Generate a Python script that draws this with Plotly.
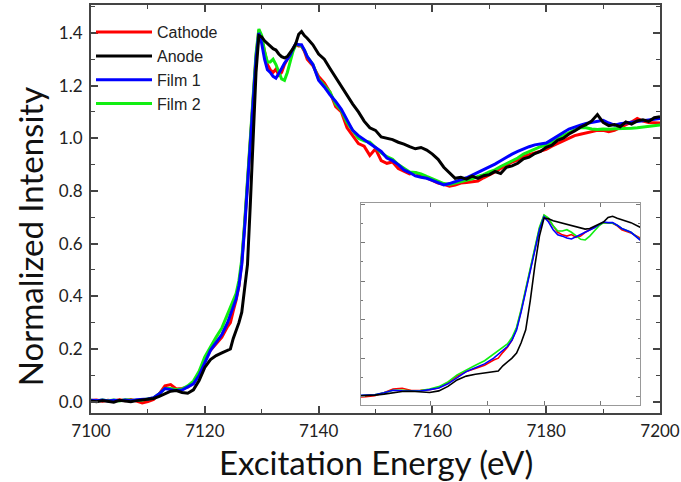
import plotly.graph_objects as go

# ---------------- data ----------------
energy = (
    [7100, 7101, 7102, 7103, 7104, 7105, 7106, 7107, 7108, 7109, 7110, 7111,
     7112, 7113, 7114, 7115, 7116, 7117, 7118, 7119, 7120, 7121, 7122, 7123]
    + [7124, 7124.5, 7125, 7125.5, 7126, 7126.5, 7127, 7127.5, 7128, 7128.5,
       7129, 7129.5, 7130, 7130.5, 7131, 7131.5, 7132, 7132.5, 7133, 7133.5,
       7134, 7134.5, 7135, 7135.5, 7136, 7136.5, 7137, 7137.5, 7138]
    + [7139, 7140, 7141, 7142, 7143, 7144, 7145, 7146, 7147, 7148, 7149, 7150,
       7151, 7152, 7153, 7154, 7155, 7156, 7157, 7158, 7159, 7160, 7161, 7162,
       7163, 7164, 7165, 7166, 7167, 7168, 7169, 7170, 7171, 7172, 7173, 7174,
       7175, 7176, 7177, 7178, 7179, 7180, 7181, 7182, 7183, 7184, 7185, 7186,
       7187, 7188, 7189, 7190, 7191, 7192, 7193, 7194, 7195, 7196, 7197, 7198,
       7199, 7200]
)

cathode = (
    [0.004, 0.006, 0.002, 0.005, 0.003, 0.007, 0.004, 0.008, 0.002, -0.005, 0.000, 0.008,
     0.030, 0.060, 0.065, 0.048, 0.050, 0.055, 0.070, 0.110, 0.160, 0.195, 0.220, 0.245]
    + [0.285, 0.300, 0.345, 0.385, 0.440, 0.530, 0.670, 0.830, 0.990, 1.130,
       1.310, 1.410, 1.380, 1.330, 1.280, 1.260, 1.250, 1.262, 1.240, 1.250,
       1.280, 1.300, 1.320, 1.340, 1.355, 1.350, 1.350, 1.330, 1.300]
    + [1.275, 1.235, 1.210, 1.175, 1.120, 1.100, 1.040, 1.010, 0.980, 0.970, 0.935, 0.960,
       0.915, 0.905, 0.910, 0.885, 0.875, 0.865, 0.870, 0.860, 0.850, 0.840, 0.830, 0.825,
       0.818, 0.822, 0.830, 0.832, 0.836, 0.838, 0.850, 0.860, 0.872, 0.885, 0.898, 0.910,
       0.918, 0.930, 0.938, 0.945, 0.950, 0.958, 0.970, 0.980, 0.992, 1.003, 1.010, 1.015,
       1.020, 1.025, 1.030, 1.030, 1.025, 1.030, 1.040, 1.050, 1.062, 1.075, 1.065, 1.060,
       1.058, 1.058]
)

anode = (
    [0.003, 0.000, 0.004, 0.002, -0.002, 0.005, 0.003, 0.000, 0.004, 0.006, 0.008, 0.012,
     0.020, 0.030, 0.040, 0.042, 0.035, 0.032, 0.045, 0.080, 0.130, 0.160, 0.175, 0.185]
    + [0.196, 0.200, 0.240, 0.270, 0.300, 0.340, 0.420, 0.520, 0.750, 1.020,
       1.250, 1.390, 1.385, 1.370, 1.360, 1.350, 1.340, 1.335, 1.320, 1.310,
       1.305, 1.310, 1.325, 1.340, 1.360, 1.395, 1.405, 1.390, 1.380]
    + [1.355, 1.320, 1.300, 1.265, 1.230, 1.200, 1.165, 1.130, 1.100, 1.065, 1.040, 1.030,
       1.005, 1.000, 0.995, 0.985, 0.978, 0.968, 0.960, 0.965, 0.955, 0.940, 0.920, 0.890,
       0.867, 0.848, 0.852, 0.845, 0.856, 0.848, 0.858, 0.862, 0.874, 0.866, 0.890, 0.895,
       0.905, 0.922, 0.928, 0.942, 0.950, 0.966, 0.974, 0.992, 1.000, 1.016, 1.028, 1.042,
       1.052, 1.066, 1.090, 1.060, 1.048, 1.052, 1.044, 1.062, 1.054, 1.066, 1.070, 1.064,
       1.078, 1.082]
)

film1 = (
    [0.005, 0.004, 0.006, 0.003, 0.005, 0.004, 0.006, 0.004, 0.007, 0.008, 0.010, 0.015,
     0.030, 0.050, 0.045, 0.042, 0.044, 0.055, 0.068, 0.100, 0.150, 0.195, 0.225, 0.255]
    + [0.300, 0.330, 0.360, 0.390, 0.440, 0.520, 0.660, 0.820, 0.980, 1.120,
       1.300, 1.400, 1.360, 1.300, 1.260, 1.250, 1.235, 1.228, 1.245, 1.265,
       1.285, 1.300, 1.315, 1.340, 1.360, 1.355, 1.355, 1.335, 1.310]
    + [1.280, 1.220, 1.195, 1.165, 1.140, 1.110, 1.070, 1.030, 1.010, 0.995, 0.980, 0.965,
       0.950, 0.925, 0.915, 0.900, 0.880, 0.870, 0.857, 0.852, 0.848, 0.840, 0.830, 0.823,
       0.828, 0.835, 0.842, 0.850, 0.860, 0.870, 0.880, 0.890, 0.902, 0.915, 0.928, 0.940,
       0.950, 0.960, 0.968, 0.975, 0.979, 0.982, 0.995, 1.010, 1.022, 1.035, 1.044, 1.050,
       1.056, 1.060, 1.064, 1.068, 1.058, 1.050, 1.055, 1.058, 1.060, 1.062, 1.065, 1.068,
       1.072, 1.075]
)

film2 = (
    [0.005, 0.003, 0.006, 0.004, 0.006, 0.003, 0.007, 0.005, 0.004, 0.006, 0.010, 0.014,
     0.030, 0.050, 0.050, 0.045, 0.048, 0.060, 0.078, 0.115, 0.170, 0.210, 0.245, 0.280]
    + [0.330, 0.355, 0.380, 0.410, 0.460, 0.540, 0.680, 0.840, 1.000, 1.140,
       1.320, 1.415, 1.390, 1.330, 1.290, 1.290, 1.300, 1.280, 1.250, 1.225,
       1.220, 1.250, 1.290, 1.330, 1.355, 1.355, 1.350, 1.335, 1.310]
    + [1.280, 1.225, 1.200, 1.175, 1.130, 1.105, 1.060, 1.030, 1.000, 0.990, 0.985, 0.965,
       0.945, 0.930, 0.920, 0.900, 0.885, 0.872, 0.870, 0.865, 0.855, 0.845, 0.835, 0.828,
       0.825, 0.830, 0.835, 0.840, 0.846, 0.855, 0.862, 0.872, 0.880, 0.893, 0.903, 0.915,
       0.925, 0.940, 0.950, 0.960, 0.968, 0.975, 0.985, 0.997, 1.010, 1.022, 1.032, 1.040,
       1.040, 1.035, 1.033, 1.035, 1.034, 1.036, 1.036, 1.037, 1.038, 1.040, 1.042, 1.044,
       1.047, 1.050]
)

series_names = ["Cathode", "Anode", "Film 1", "Film 2"]
x_ticks = [7100, 7120, 7140, 7160, 7180, 7200]
y_ticks = [0.0, 0.2, 0.4, 0.6, 0.8, 1.0, 1.2, 1.4]
x_title = "Excitation Energy (eV)"
y_title = "Normalized Intensity"

# ---------------- figure ----------------
colors = {"Cathode": "#ff0000", "Anode": "#000000", "Film 1": "#0000ff", "Film 2": "#11ee11"}
data_map = {"Cathode": cathode, "Anode": anode, "Film 1": film1, "Film 2": film2}
rank = {"Cathode": 1, "Anode": 2, "Film 1": 3, "Film 2": 4}
draw_order = ["Cathode", "Film 2", "Film 1", "Anode"]

fig = go.Figure()
for name in draw_order:
    fig.add_trace(go.Scatter(
        x=energy, y=data_map[name], name=name, mode="lines",
        line=dict(color=colors[name], width=3),
        legendrank=rank[name], xaxis="x", yaxis="y",
    ))
for name in draw_order:
    fig.add_trace(go.Scatter(
        x=energy, y=data_map[name], name=name, mode="lines",
        line=dict(color=colors[name], width=1.6),
        showlegend=False, xaxis="x2", yaxis="y2",
    ))

axis_col = "#444444"
fig.update_layout(
    width=681, height=482,
    margin=dict(l=91, r=21, t=5, b=69, autoexpand=False),
    paper_bgcolor="white", plot_bgcolor="white",
    font=dict(family="Lato, Open Sans, sans-serif", color="#222222"),
    showlegend=True,
    legend=dict(
        x=0.0, y=0.975, xanchor="left", yanchor="top",
        bgcolor="rgba(0,0,0,0)", borderwidth=0,
        font=dict(family="Liberation Sans, Arial, sans-serif", size=16, color="#222222"),
        tracegroupgap=0, itemwidth=56,
    ),
    xaxis=dict(
        domain=[0, 1], range=[7100, 7200], tickvals=x_ticks,
        ticks="inside", ticklen=7, tickwidth=1.5, tickcolor=axis_col,
        minor=dict(dtick=10, ticks="inside", ticklen=4, tickwidth=1.2, tickcolor=axis_col),
        showline=True, linecolor=axis_col, linewidth=2, mirror="allticks",
        showgrid=False, zeroline=False, ticklabeloverflow="allow", automargin=False,
        ticklabelstandoff=2,
        tickfont=dict(size=17, color="#222222"),
    ),
    yaxis=dict(
        domain=[0, 1], range=[-0.043, 1.506], tickvals=y_ticks, tickformat=".1f",
        ticks="inside", ticklen=7, tickwidth=1.5, tickcolor=axis_col,
        minor=dict(dtick=0.1, ticks="inside", ticklen=4, tickwidth=1.2, tickcolor=axis_col),
        showline=True, linecolor=axis_col, linewidth=2, mirror="allticks",
        showgrid=False, zeroline=False, ticklabelstandoff=3, automargin=False,
        tickfont=dict(size=17, color="#222222"),
    ),
    xaxis2=dict(
        domain=[0.4746, 0.965], anchor="y2", range=[7109.5, 7140],
        tickvals=[7117.1, 7123.3, 7129.5, 7135.7], showticklabels=False,
        ticks="inside", ticklen=4, tickwidth=1, tickcolor="#777777",
        showline=True, linecolor="#999999", linewidth=1, mirror="ticks",
        showgrid=False, zeroline=False,
    ),
    yaxis2=dict(
        domain=[0.0196, 0.5147], anchor="x2", range=[-0.065, 1.508],
        tickvals=[0.0, 0.3, 0.6, 0.9, 1.2, 1.5], showticklabels=False,
        minor=dict(dtick=0.15, ticks="inside", ticklen=2, tickcolor="#777777"),
        ticks="inside", ticklen=4, tickwidth=1, tickcolor="#777777",
        showline=True, linecolor="#999999", linewidth=1, mirror="ticks",
        showgrid=False, zeroline=False,
    ),
    annotations=[
        dict(text=x_title, xref="paper", yref="paper", x=0.5, y=-0.12,
             xanchor="center", yanchor="middle", showarrow=False,
             font=dict(size=33, color="#111111", family="Lato, Open Sans, sans-serif")),
        dict(text=y_title, xref="paper", yref="paper", x=-0.107, y=0.431,
             xanchor="center", yanchor="middle", showarrow=False, textangle=-90,
             font=dict(size=33, color="#111111", family="Lato, Open Sans, sans-serif")),
    ],
)

fig.write_html("out.html")
